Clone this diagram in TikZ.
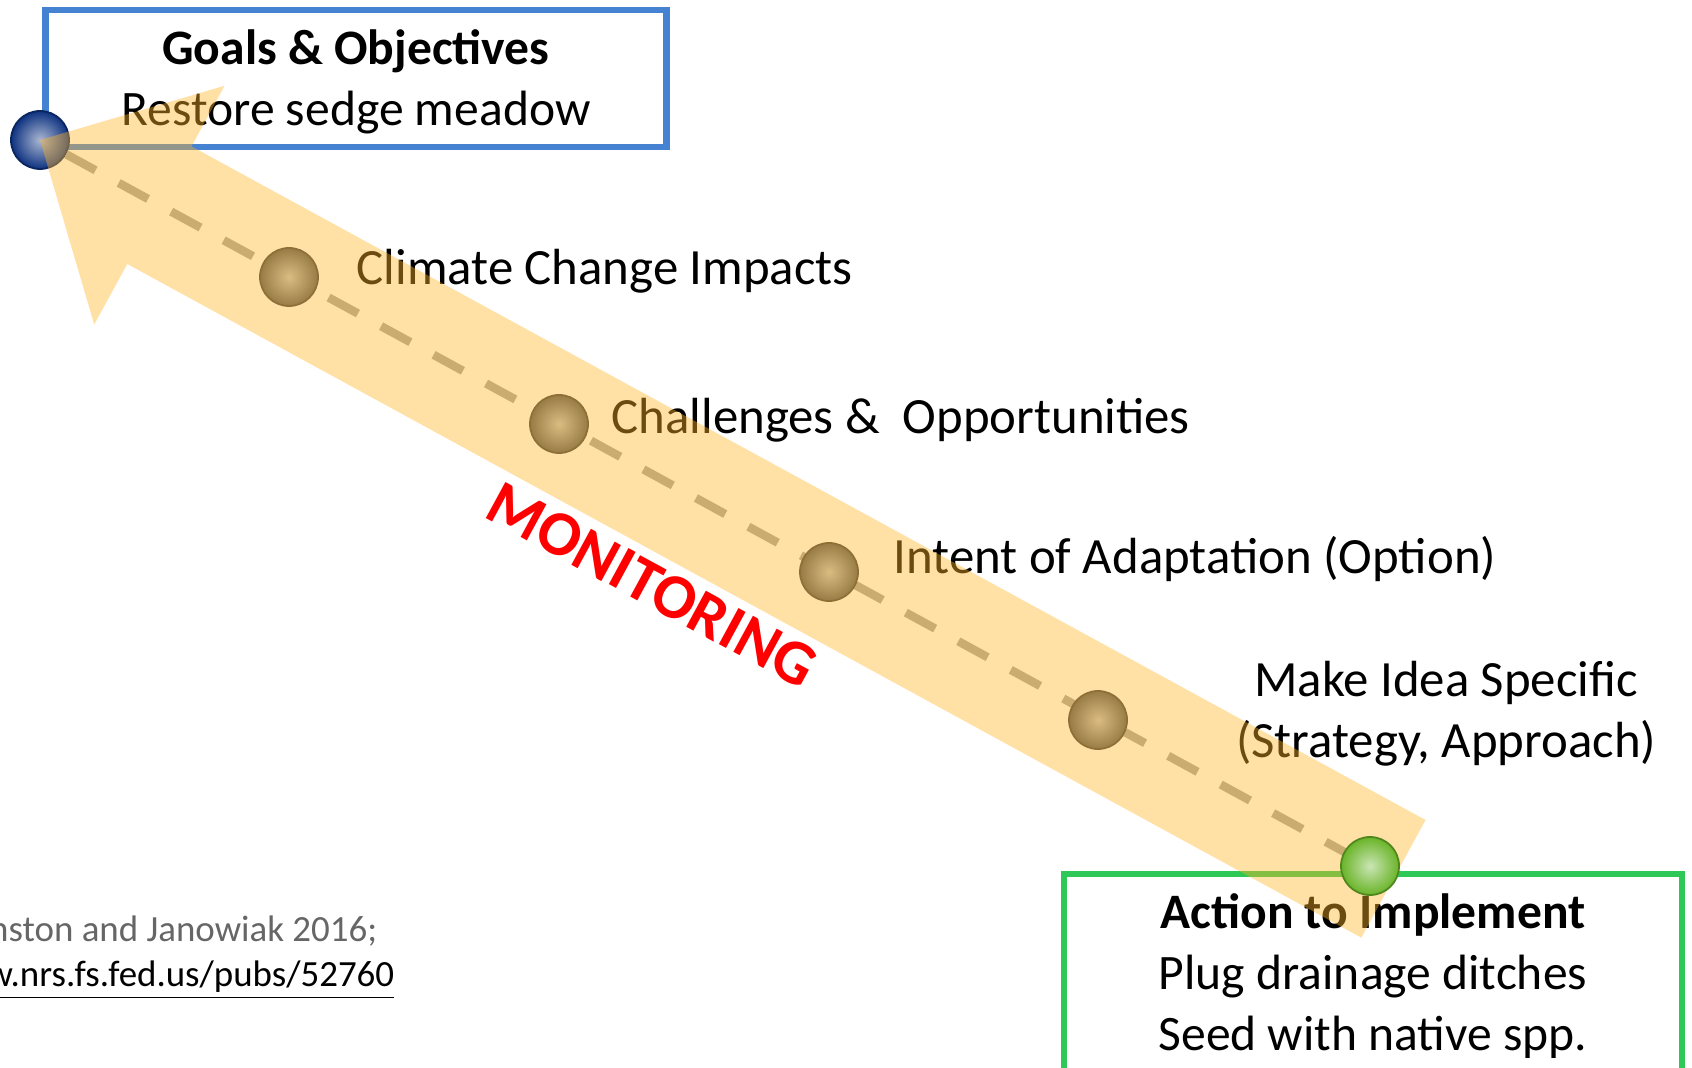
\documentclass[tikz,border=0pt]{standalone}
\usepackage{fontspec}
\setmainfont{Carlito}
\usetikzlibrary{positioning}
\definecolor{GoalBlue}{HTML}{4682D2}
\definecolor{ActGreen}{HTML}{2DC855}
\definecolor{Band}{RGB}{255,180,40}
\definecolor{DashGray}{HTML}{A5A5A5}
\definecolor{CiteGray}{HTML}{666666}
\definecolor{Steel}{RGB}{78,84,90}
\definecolor{Navy}{RGB}{14,50,128}
\definecolor{Leaf}{RGB}{105,180,40}
\begin{document}
\begin{tikzpicture}[x=.01cm,y=-.01cm,
    txt/.style={font=\fontsize{14.1}{17.3}\selectfont,inner sep=0pt,align=center},
    lbl/.style={font=\fontsize{14.45}{17.4}\selectfont,inner sep=0pt,align=center},
    bead/.style={circle,minimum size=.58cm,inner sep=0pt,draw=#1!75!black,line width=.5pt,shading=radial,inner color=#1!35!white,outer color=#1},
    trail/.style={DashGray,line width=2.4pt,dash pattern=on 9.5pt off 7.5pt}]
  \useasboundingbox(0,0)rectangle(1692,1068);
  % boxes and labels (under the band)
  \node[txt,draw=GoalBlue,line width=1.9pt,minimum width=6.2cm,minimum height=1.37cm](goal)at(356,78.5){};
  \node[txt](goaltext)at(356,82){\textbf{Goals \& Objectives}\\Restore sedge meadow};
  \node[lbl,anchor=west](climate)at(356,271){Climate Change Impacts};
  \node[lbl,anchor=west](challenge)at(611,420){Challenges \&\ \ Opportunities};
  \node[lbl,anchor=west](intent)at(893,559){Intent of Adaptation (Option)};
  \node[lbl](specific)at(1446,714){Make Idea Specific\\(Strategy, Approach)};
  \node[txt](action)at(1373,976){\textbf{Action to Implement}\\Plug drainage ditches\\Seed with native spp.};
  \draw[ActGreen,line width=1.9pt](1064,1080)|-(1682,874)--(1682,1080);
  \node[font=\fontsize{10.5}{12}\selectfont,CiteGray,anchor=east,inner sep=0pt](cite)at(378,931){Swanston and Janowiak 2016;};
  \node[font=\fontsize{10.5}{12}\selectfont,anchor=east,inner sep=0pt](link)at(395,980){\underline{www.nrs.fs.fed.us/pubs/52760}};
  % path of steps
  \node[bead=Navy](goaldot)at(40,140){};
  \coordinate(actpos)at(1370,866);
  \draw[trail](goaldot)--(actpos);
  \foreach\x/\y[count=\i]in{289/277,559/424,829/572,1098/720}
    \node[bead=Steel](step\i)at(\x,\y){};
  % monitoring arrow
  \begin{scope}[shift={(goaldot.center)},rotate=-28.63]
    \fill[Band,opacity=.42](0,0)--(136,-136)--(136,-67)--(1542,-67)--(1542,67)--(136,67)--(136,136)--cycle;
  \end{scope}
  \node[bead=Leaf](actdot)at(actpos){};
  \node[red,font=\fontsize{18}{20}\selectfont\bfseries,rotate=-28.5](monitor)at(652,585){MONITORING};
\end{tikzpicture}
\end{document}
